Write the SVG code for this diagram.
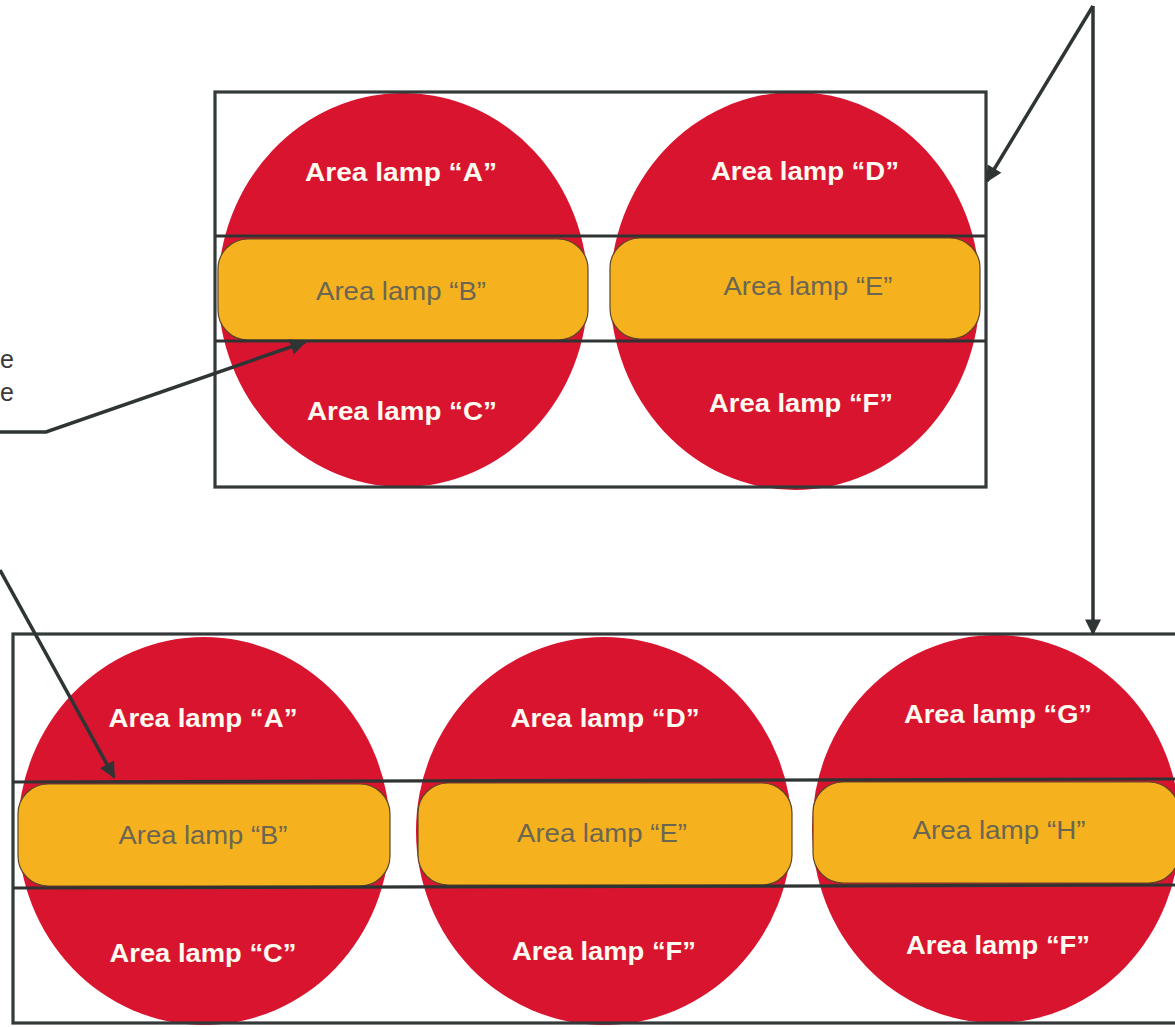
<svg xmlns="http://www.w3.org/2000/svg" width="1175" height="1027" viewBox="0 0 1175 1027">
  <style>
    .red { fill: #d9142f; }
    .band { fill: #f6b21e; stroke: #5a4628; stroke-width: 1.2; }
    .frame { fill: none; stroke: #343a39; stroke-width: 3.2; }
    .rule { stroke: #2f3433; stroke-width: 3.2; }
    .lbl { font-family: "Liberation Sans", Arial, sans-serif; font-size: 26px; font-weight: bold; fill: #fffaf0; text-anchor: middle; }
    .lbl2 { font-family: "Liberation Sans", Arial, sans-serif; font-size: 26px; fill: #6b6652; text-anchor: middle; }
    .side { font-family: "Liberation Sans", Arial, sans-serif; font-size: 25px; fill: #3a3a3a; }
    .conn { fill: none; stroke: #2f3534; stroke-width: 3.5; stroke-linejoin: miter; }
  </style>
  <defs>
    <marker id="arrow" viewBox="0 0 10 10" refX="9" refY="5" markerWidth="5.2" markerHeight="4.6" orient="auto" markerUnits="strokeWidth">
      <path d="M0,0 L10,5 L0,10 Z" fill="#2f3534"/>
    </marker>
  </defs>
  <rect width="1175" height="1027" fill="#ffffff"/>

  <!-- top lamp (2 segments) -->
  <g id="top-lamp">
    <g id="top-lamp-left">
      <ellipse class="red" cx="403" cy="290" rx="185" ry="197"/>
      <rect class="band" x="218" y="239" width="370" height="101" rx="30" ry="30"/>
      <text class="lbl" x="401" y="181" textLength="192" lengthAdjust="spacingAndGlyphs">Area lamp “A”</text>
      <text class="lbl2" x="401" y="300" textLength="170" lengthAdjust="spacingAndGlyphs">Area lamp “B”</text>
      <text class="lbl" x="402" y="420" textLength="190" lengthAdjust="spacingAndGlyphs">Area lamp “C”</text>
    </g>
    <g id="top-lamp-right">
      <ellipse class="red" cx="795" cy="291" rx="185" ry="199"/>
      <rect class="band" x="610" y="238" width="370" height="101" rx="30" ry="30"/>
      <text class="lbl" x="805" y="180" textLength="188" lengthAdjust="spacingAndGlyphs">Area lamp “D”</text>
      <text class="lbl2" x="808" y="295" textLength="169" lengthAdjust="spacingAndGlyphs">Area lamp “E”</text>
      <text class="lbl" x="801" y="412" textLength="184" lengthAdjust="spacingAndGlyphs">Area lamp “F”</text>
    </g>
    <g id="top-frame">
      <rect class="frame" x="215" y="92" width="771" height="395"/>
      <line class="rule" x1="215" y1="236" x2="986" y2="236"/>
      <line class="rule" x1="215" y1="341" x2="986" y2="341"/>
    </g>
  </g>

  <!-- bottom lamp (3 segments) -->
  <g id="bottom-lamp">
    <g id="bottom-lamp-1">
      <ellipse class="red" cx="204" cy="831" rx="186" ry="194"/>
      <rect class="band" x="18" y="784" width="372" height="102" rx="30" ry="30"/>
      <text class="lbl" x="203" y="727" textLength="189" lengthAdjust="spacingAndGlyphs">Area lamp “A”</text>
      <text class="lbl2" x="203" y="844" textLength="169" lengthAdjust="spacingAndGlyphs">Area lamp “B”</text>
      <text class="lbl" x="203" y="962" textLength="187" lengthAdjust="spacingAndGlyphs">Area lamp “C”</text>
    </g>
    <g id="bottom-lamp-2">
      <ellipse class="red" cx="604" cy="831" rx="188" ry="194"/>
      <rect class="band" x="418" y="783" width="374" height="102" rx="30" ry="30"/>
      <text class="lbl" x="605" y="727" textLength="189" lengthAdjust="spacingAndGlyphs">Area lamp “D”</text>
      <text class="lbl2" x="602" y="842" textLength="170" lengthAdjust="spacingAndGlyphs">Area lamp “E”</text>
      <text class="lbl" x="604" y="960" textLength="184" lengthAdjust="spacingAndGlyphs">Area lamp “F”</text>
    </g>
    <g id="bottom-lamp-3">
      <ellipse class="red" cx="996" cy="829" rx="184" ry="194"/>
      <rect class="band" x="813" y="782" width="366" height="101" rx="30" ry="30"/>
      <text class="lbl" x="998" y="723" textLength="188" lengthAdjust="spacingAndGlyphs">Area lamp “G”</text>
      <text class="lbl2" x="999" y="839" textLength="173" lengthAdjust="spacingAndGlyphs">Area lamp “H”</text>
      <text class="lbl" x="998" y="954" textLength="184" lengthAdjust="spacingAndGlyphs">Area lamp “F”</text>
    </g>
    <g id="bottom-frame">
      <rect class="frame" x="13" y="634" width="1200" height="389"/>
      <line class="rule" x1="13" y1="782" x2="1175" y2="779"/>
      <line class="rule" x1="13" y1="888" x2="1175" y2="885"/>
    </g>
  </g>

  <!-- partial side labels -->
  <g id="side-labels">
    <text class="side" x="0" y="368">e</text>
    <text class="side" x="0" y="401">e</text>
  </g>

  <!-- connectors -->
  <g id="connectors">
    <polyline class="conn" points="0,432 46,432 305,342" marker-end="url(#arrow)"/>
    <line class="conn" x1="0" y1="570" x2="114" y2="777" marker-end="url(#arrow)"/>
    <polyline class="conn" points="1093,6 987,181" marker-end="url(#arrow)"/>
    <line class="conn" x1="1093" y1="6" x2="1093" y2="634" marker-end="url(#arrow)"/>
  </g>
</svg>
